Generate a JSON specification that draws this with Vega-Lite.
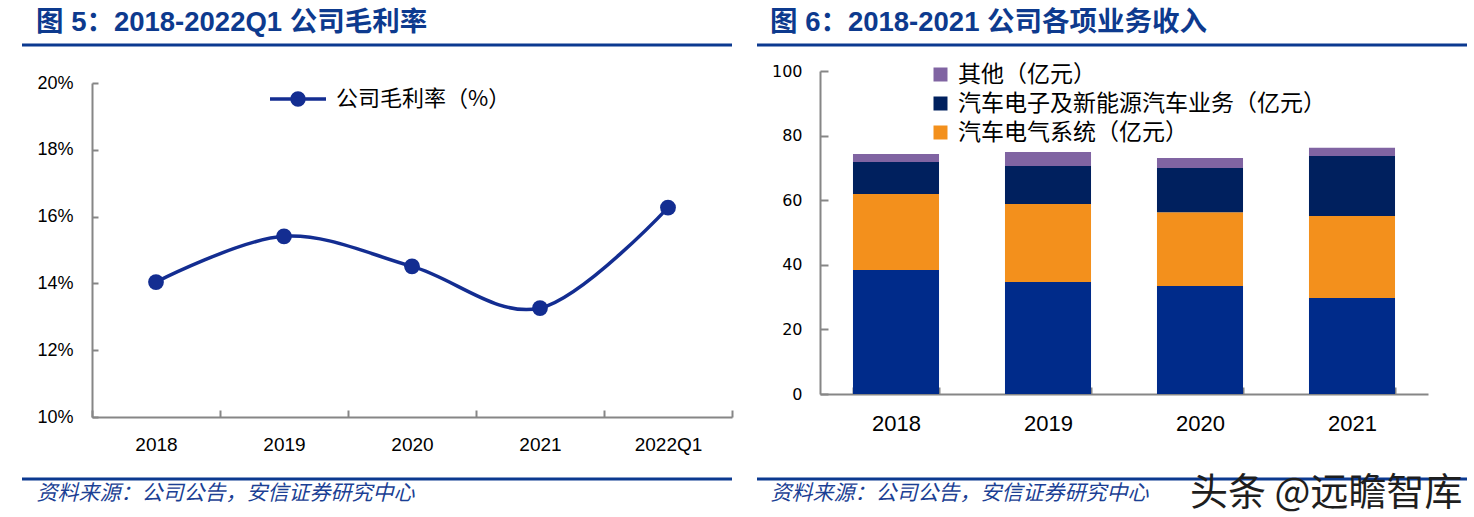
{
  "$schema": "https://vega.github.io/schema/vega-lite/v6.json",
  "padding": {"left": 20, "top": 0, "right": 0, "bottom": 0},
  "autosize": {"type": "pad"},
  "background": "white",
  "bounds": "flush",
  "spacing": 25,
  "resolve": {"scale": {"color": "independent", "x": "independent", "y": "independent"}, "legend": {"color": "independent"}},
  "title": {"text": "头条 @远瞻智库", "orient": "bottom", "anchor": "end", "frame": "bounds", "offset": -12, "baseline": "alphabetic", "dx": -6, "font": "Noto Sans CJK SC", "fontSize": 38, "fontWeight": "normal", "color": "#1E1E1E"},
  "config": {
    "view": {"stroke": null},
    "axis": {"grid": false, "domainColor": "#868686", "domainWidth": 2, "tickColor": "#868686", "tickWidth": 2, "labelColor": "#000000", "labelFont": "Liberation Sans"}
  },
  "datasets": {
    "margin": [
      {"year": "2018", "rate": 14.04, "series": "公司毛利率（%）"},
      {"year": "2019", "rate": 15.41, "series": "公司毛利率（%）"},
      {"year": "2020", "rate": 14.51, "series": "公司毛利率（%）"},
      {"year": "2021", "rate": 13.26, "series": "公司毛利率（%）"},
      {"year": "2022Q1", "rate": 16.27, "series": "公司毛利率（%）"}
    ],
    "revenue": [
      {"year": "2018", "series": "家电与消费电子（亿元）", "rank": 1, "value": 38.4},
      {"year": "2018", "series": "汽车电气系统（亿元）", "rank": 2, "value": 23.5},
      {"year": "2018", "series": "汽车电子及新能源汽车业务（亿元）", "rank": 3, "value": 9.9},
      {"year": "2018", "series": "其他（亿元）", "rank": 4, "value": 2.5},
      {"year": "2019", "series": "家电与消费电子（亿元）", "rank": 1, "value": 34.7},
      {"year": "2019", "series": "汽车电气系统（亿元）", "rank": 2, "value": 24.1},
      {"year": "2019", "series": "汽车电子及新能源汽车业务（亿元）", "rank": 3, "value": 11.8},
      {"year": "2019", "series": "其他（亿元）", "rank": 4, "value": 4.3},
      {"year": "2020", "series": "家电与消费电子（亿元）", "rank": 1, "value": 33.4},
      {"year": "2020", "series": "汽车电气系统（亿元）", "rank": 2, "value": 22.9},
      {"year": "2020", "series": "汽车电子及新能源汽车业务（亿元）", "rank": 3, "value": 13.7},
      {"year": "2020", "series": "其他（亿元）", "rank": 4, "value": 3.1},
      {"year": "2021", "series": "家电与消费电子（亿元）", "rank": 1, "value": 29.7},
      {"year": "2021", "series": "汽车电气系统（亿元）", "rank": 2, "value": 25.4},
      {"year": "2021", "series": "汽车电子及新能源汽车业务（亿元）", "rank": 3, "value": 18.6},
      {"year": "2021", "series": "其他（亿元）", "rank": 4, "value": 2.5}
    ]
  },
  "hconcat": [
    {
      "width": 710,
      "height": 517,
      "title": {"text": "图 5：2018-2022Q1 公司毛利率", "anchor": "start", "frame": "group", "orient": "top", "offset": -58, "baseline": "alphabetic", "dx": 14, "font": "Liberation Sans, Noto Sans CJK SC", "fontSize": 27.5, "fontWeight": "bold", "color": "#0D3A8E"},
      "layer": [
        {
          "data": {"name": "margin"},
          "mark": {"type": "line", "interpolate": "cardinal", "color": "#132D91", "strokeWidth": 3.5},
          "encoding": {
            "x": {
              "field": "year", "type": "ordinal",
              "scale": {"type": "band", "range": [70, 710], "paddingInner": 0, "paddingOuter": 0},
              "axis": {"orient": "bottom", "offset": -100, "tickBand": "extent", "tickSize": -7, "labelPadding": 25, "labelFontSize": 19, "labelAngle": 0,
                "title": "资料来源：公司公告，安信证券研究中心", "titleX": 14, "titleY": 82, "titleAlign": "left", "titleBaseline": "alphabetic",
                "titleFont": "Noto Sans CJK SC", "titleFontSize": 21, "titleFontStyle": "italic", "titleFontWeight": "normal", "titleColor": "#1B3F94"}
            },
            "y": {
              "field": "rate", "type": "quantitative",
              "scale": {"domain": [10, 20], "range": [417, 83], "nice": false, "zero": false},
              "axis": {"orient": "left", "offset": -70, "values": [10, 12, 14, 16, 18, 20], "labelExpr": "datum.value + '%'", "title": null, "tickSize": -6, "labelPadding": 25, "labelFontSize": 18}
            }
          }
        },
        {
          "data": {"name": "margin"},
          "mark": {"type": "point", "filled": true, "opacity": 1, "size": 250},
          "encoding": {
            "x": {"field": "year", "type": "ordinal"},
            "y": {"field": "rate", "type": "quantitative"},
            "color": {
              "field": "series", "type": "nominal",
              "scale": {"domain": ["公司毛利率（%）"], "range": ["#132D91"]},
              "legend": {"title": null, "orient": "none", "legendX": 246, "legendY": 69, "padding": 0,
                "symbolType": "M-1,0L1,0M-0.214,0A0.214,0.214,0,1,1,0.214,0A0.214,0.214,0,1,1,-0.214,0Z",
                "symbolSize": 3136, "symbolStrokeWidth": 3.5, "symbolStrokeColor": "#132D91", "symbolFillColor": "#132D91",
                "labelFont": "Noto Sans CJK SC", "labelFontSize": 22, "labelColor": "#000000", "labelOffset": 8, "labelLimit": 400,
                "encode": {"symbols": {"update": {"stroke": {"value": "#132D91"}, "fill": {"value": "#132D91"}, "strokeWidth": {"value": 3.5}, "opacity": {"value": 1}}}}}
            }
          }
        },
        {
          "data": {"values": [{}]},
          "mark": {"type": "rule", "color": "#0B3990", "strokeWidth": 3},
          "encoding": {"y": {"datum": 21.138}}
        },
        {
          "data": {"values": [{}]},
          "mark": {"type": "rule", "color": "#0B3990", "strokeWidth": 3},
          "encoding": {"y": {"datum": 8.144}}
        }
      ]
    },
    {
      "width": 710,
      "height": 517,
      "title": {"text": "图 6：2018-2021 公司各项业务收入", "anchor": "start", "frame": "group", "orient": "top", "offset": -58, "baseline": "alphabetic", "dx": 13, "font": "Liberation Sans, Noto Sans CJK SC", "fontSize": 27.5, "fontWeight": "bold", "color": "#0D3A8E"},
      "layer": [
        {
          "data": {"name": "revenue"},
          "mark": {"type": "bar"},
          "encoding": {
            "x": {
              "field": "year", "type": "ordinal",
              "scale": {"type": "band", "range": [63, 671], "paddingInner": 0.434, "paddingOuter": 0.217},
              "axis": {"orient": "bottom", "offset": -123, "tickBand": "extent", "tickSize": -7, "labelPadding": 26, "labelFontSize": 22, "labelAngle": 0,
                "title": "资料来源：公司公告，安信证券研究中心", "titleX": 13, "titleY": 105, "titleAlign": "left", "titleBaseline": "alphabetic",
                "titleFont": "Noto Sans CJK SC", "titleFontSize": 21, "titleFontStyle": "italic", "titleFontWeight": "normal", "titleColor": "#1B3F94"}
            },
            "y": {
              "field": "value", "type": "quantitative", "stack": "zero",
              "scale": {"domain": [0, 100], "range": [394, 71], "nice": false},
              "axis": {"orient": "left", "offset": -63, "values": [0, 20, 40, 60, 80, 100], "title": null, "tickSize": -8, "labelPadding": 26, "labelFont": "DejaVu Sans", "labelFontSize": 16}
            },
            "color": {
              "field": "series", "type": "nominal",
              "scale": {"domain": ["家电与消费电子（亿元）", "汽车电气系统（亿元）", "汽车电子及新能源汽车业务（亿元）", "其他（亿元）"], "range": ["#002B8A", "#F3901C", "#00205E", "#8064A2"]},
              "legend": {"title": null, "orient": "none", "legendX": 172, "legendY": 63, "padding": 0,
                "values": ["其他（亿元）", "汽车电子及新能源汽车业务（亿元）", "汽车电气系统（亿元）"],
                "symbolType": "square", "symbolSize": 196, "symbolStrokeWidth": 0, "labelLimit": 600,
                "labelFont": "Noto Sans CJK SC", "labelFontSize": 23, "labelColor": "#000000", "labelOffset": 6, "rowPadding": 5}
            },
            "order": {"field": "rank", "type": "quantitative"}
          }
        },
        {
          "data": {"values": [{}]},
          "mark": {"type": "rule", "color": "#0B3990", "strokeWidth": 3},
          "encoding": {"y": {"datum": 108.05}}
        },
        {
          "data": {"values": [{}]},
          "mark": {"type": "rule", "color": "#0B3990", "strokeWidth": 3},
          "encoding": {"y": {"datum": -26.32}}
        }
      ]
    }
  ]
}
